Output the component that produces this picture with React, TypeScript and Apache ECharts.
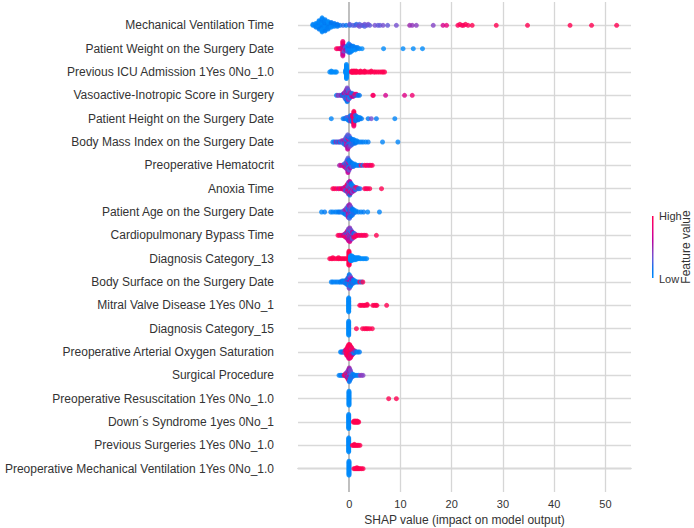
import React, { useEffect, useRef } from "react";
import * as echarts from "echarts";

// Feature names, top to bottom
const featureNames: string[] = [
  "Mechanical Ventilation Time",
  "Patient Weight on the Surgery Date",
  "Previous ICU Admission 1Yes 0No_1.0",
  "Vasoactive-Inotropic Score in Surgery",
  "Patient Height on the Surgery Date",
  "Body Mass Index on the Surgery Date",
  "Preoperative Hematocrit",
  "Anoxia Time",
  "Patient Age on the Surgery Date",
  "Cardiopulmonary Bypass Time",
  "Diagnosis Category_13",
  "Body Surface on the Surgery Date",
  "Mitral Valve Disease 1Yes 0No_1",
  "Diagnosis Category_15",
  "Preoperative Arterial Oxygen Saturation",
  "Surgical Procedure",
  "Preoperative Resuscitation 1Yes 0No_1.0",
  "Down´s Syndrome 1yes 0No_1",
  "Previous Surgeries 1Yes 0No_1.0",
  "Preoperative Mechanical Ventilation 1Yes 0No_1.0",
];

const xTickLabels: number[] = [0, 10, 20, 30, 40, 50];

// [SHAP value, normalized feature value]
const mechVent: [number, number][] = [
  [-7.1, 0.02], [-7.1, 0.06],
  [-6.5, 0.0], [-6.5, 0.05], [-6.5, 0.1], [-6.5, 0.03], [-6.5, 0.08],
  [-5.9, 0.02], [-5.9, 0.06], [-5.9, 0.0], [-5.9, 0.1], [-5.9, 0.04], [-5.9, 0.08], [-5.9, 0.01], [-5.9, 0.05], [-5.9, 0.12], [-5.9, 0.03],
  [-5.3, 0.0], [-5.3, 0.05], [-5.3, 0.1], [-5.3, 0.02], [-5.3, 0.08], [-5.3, 0.04], [-5.3, 0.12], [-5.3, 0.01],
  [-5.3, 0.06], [-5.3, 0.09], [-5.3, 0.03], [-5.3, 0.07], [-5.3, 0.0], [-5.3, 0.11], [-5.3, 0.05], [-5.3, 0.02],
  [-4.7, 0.03], [-4.7, 0.08], [-4.7, 0.0], [-4.7, 0.12], [-4.7, 0.05], [-4.7, 0.1], [-4.7, 0.02], [-4.7, 0.07],
  [-4.7, 0.04], [-4.7, 0.09], [-4.7, 0.01], [-4.7, 0.06], [-4.7, 0.11],
  [-4.1, 0.05], [-4.1, 0.1], [-4.1, 0.02], [-4.1, 0.08], [-4.1, 0.12], [-4.1, 0.04], [-4.1, 0.07], [-4.1, 0.0], [-4.1, 0.09],
  [-3.5, 0.08], [-3.5, 0.12], [-3.5, 0.05], [-3.5, 0.1], [-3.5, 0.03], [-3.5, 0.15],
  [-2.9, 0.1], [-2.9, 0.15], [-2.9, 0.06], [-2.9, 0.12],
  [-2.3, 0.12], [-2.3, 0.18], [-2.3, 0.1],
  [-1.8, 0.15], [-1.2, 0.2], [-0.6, 0.15], [0.1, 0.2], [0.1, 0.3], [0.7, 0.25], [1.1, 0.3], [1.4, 0.2],
  [1.7, 0.3], [2.0, 0.25], [2.0, 0.35], [2.4, 0.3], [2.7, 0.3], [3.0, 0.35], [3.0, 0.25], [3.4, 0.3],
  [3.7, 0.35], [4.0, 0.3], [5.0, 0.35], [5.6, 0.3], [6.0, 0.3], [6.6, 0.35], [7.5, 0.3], [9.2, 0.35],
  [11.8, 0.5], [12.3, 0.45], [13.1, 0.42], [16.4, 0.4], [18.3, 0.7], [19.0, 0.8],
  [21.2, 0.95], [21.6, 0.97], [22.0, 1], [22.3, 0.9], [22.7, 1], [23.2, 0.95], [24.0, 1],
  [28.7, 1], [34.8, 1], [43.1, 1], [47.3, 1], [52.2, 1],
];

const weight: [number, number][] = [
  [-2.5, 0.95], [-2.2, 0.9], [-1.9, 1], [-1.7, 0.7], [-1.5, 0.95], [-1.4, 0.5],
  [-1.25, 0.9], [-1.25, 0.55], [-1.25, 1], [-1.25, 0.7], [-1.25, 0.45], [-1.25, 0.95],
  [-1.25, 0.8], [-1.25, 0.4], [-1.25, 1], [-1.25, 0.6], [-1.25, 0.85], [-1.25, 0.7],
  [-1.0, 0.8], [-1.0, 0.5], [-1.0, 0.9], [-1.0, 0.6], [-1.0, 0.3],
  [-0.7, 0.4], [-0.7, 0.3], [-0.7, 0.6],
  [-0.4, 0.15], [-0.4, 0.1], [-0.4, 0.2], [-0.4, 0.05], [-0.4, 0.25],
  [-0.1, 0.05], [-0.1, 0.1], [-0.1, 0.0], [-0.1, 0.15], [-0.1, 0.05], [-0.1, 0.1], [-0.1, 0.2], [-0.1, 0.0],
  [0.2, 0.05], [0.2, 0.1], [0.2, 0.0], [0.2, 0.15], [0.2, 0.05], [0.2, 0.2], [0.2, 0.1],
  [0.5, 0.05], [0.5, 0.1], [0.5, 0.0], [0.5, 0.15], [0.5, 0.05],
  [0.8, 0.1], [0.8, 0.05], [0.8, 0.0], [0.8, 0.1],
  [1.2, 0.05], [1.2, 0.1], [1.2, 0.0],
  [1.6, 0.05], [1.6, 0.1], [2.0, 0.05], [2.5, 0.0],
  [6.7, 0.0], [10.5, 0.0], [12.5, 0.0], [14.3, 0.0],
];

const icuAdmission: [number, number][] = [
  [-3.8, 0], [-3.5, 0], [-3.5, 0], [-3.3, 0], [-3.0, 0], [-2.7, 0], [-2.5, 0],
  [-0.7, 0], [-0.7, 0], [-0.7, 0], [-0.7, 0],
  [-0.55, 0], [-0.55, 0], [-0.55, 0], [-0.55, 0], [-0.55, 0], [-0.55, 0], [-0.55, 0], [-0.55, 0],
  [-0.55, 0], [-0.55, 0], [-0.55, 0], [-0.55, 0], [-0.55, 0], [-0.55, 0], [-0.55, 0], [-0.55, 0],
  [-0.4, 0], [-0.4, 0], [-0.4, 0], [-0.4, 0],
  [0.4, 1], [0.5, 1], [0.5, 1], [0.6, 0.95], [0.8, 1], [0.8, 1], [0.9, 1], [1.1, 1], [1.1, 1], [1.3, 1],
  [1.4, 1], [1.4, 1], [1.6, 1], [1.9, 1], [2.1, 1], [2.2, 1], [2.2, 1], [2.5, 1], [2.8, 1], [3.0, 1],
  [3.0, 1], [3.2, 1], [3.6, 1], [4.0, 1], [4.3, 1], [4.3, 1], [4.8, 1], [5.1, 1], [5.5, 1], [5.9, 1],
  [6.3, 1], [6.6, 1], [6.9, 1],
];

const vasoactive: [number, number][] = [
  [-2.5, 0.1], [-2.2, 0.5], [-1.9, 0.3], [-1.6, 0.55], [-1.4, 0.1], [-1.2, 0.5], [-1.2, 0.15],
  [-1.0, 0.3], [-1.0, 0.5], [-1.0, 0.1], [-1.0, 0.6],
  [-0.8, 0.1], [-0.8, 0.45], [-0.8, 0.2], [-0.8, 0.55], [-0.8, 0.05], [-0.8, 0.4], [-0.8, 0.3],
  [-0.6, 0.1], [-0.6, 0.5], [-0.6, 0.05], [-0.6, 0.4], [-0.6, 0.6], [-0.6, 0.15], [-0.6, 0.35], [-0.6, 0.5], [-0.6, 0.1], [-0.6, 0.45],
  [-0.4, 0.05], [-0.4, 0.5], [-0.4, 0.1], [-0.4, 0.45], [-0.4, 0.2], [-0.4, 0.55], [-0.4, 0.05],
  [-0.4, 0.4], [-0.4, 0.3], [-0.4, 0.6], [-0.4, 0.1], [-0.4, 0.5], [-0.4, 0.15], [-0.4, 0.35],
  [-0.2, 0.1], [-0.2, 0.5], [-0.2, 0.2], [-0.2, 0.6], [-0.2, 0.05], [-0.2, 0.4], [-0.2, 0.7], [-0.2, 0.15], [-0.2, 0.45], [-0.2, 0.3],
  [0.0, 0.1], [0.0, 0.5], [0.0, 0.2], [0.0, 0.7], [0.0, 0.05], [0.0, 0.4], [0.0, 0.3],
  [0.2, 0.1], [0.2, 0.8], [0.2, 0.2], [0.2, 0.5], [0.2, 0.05],
  [0.5, 0.9], [0.5, 0.1], [0.5, 0.7], [0.5, 0.2],
  [0.8, 0.95], [0.8, 0.1], [0.8, 0.6],
  [1.1, 0.1], [1.1, 0.9], [1.4, 0.2], [1.4, 0.8], [1.7, 0.1], [2.0, 0.15],
  [4.6, 0.95], [4.7, 0.9], [7.1, 0.7], [10.8, 0.75], [12.3, 0.85],
];

const height: [number, number][] = [
  [-3.5, 0.05], [-1.2, 0.1], [-0.9, 0.15], [-0.6, 0.1], [-0.6, 0.2],
  [-0.3, 0.1], [-0.3, 0.3], [-0.3, 0.05],
  [0.0, 0.1], [0.0, 0.2], [0.0, 0.05], [0.0, 0.3], [0.0, 0.15],
  [0.3, 0.1], [0.3, 0.6], [0.3, 0.05], [0.3, 0.2], [0.3, 0.5], [0.3, 0.1],
  [0.6, 0.2], [0.6, 0.7], [0.6, 0.1], [0.6, 0.5], [0.6, 0.05], [0.6, 0.8], [0.6, 0.15],
  [0.9, 0.95], [0.9, 1], [0.9, 0.9], [0.9, 0.8], [0.9, 1], [0.9, 0.95], [0.9, 0.85], [0.9, 1],
  [0.9, 0.9], [0.9, 0.7], [0.9, 1], [0.9, 0.95], [0.9, 0.9], [0.9, 1], [0.9, 0.85],
  [1.2, 0.1], [1.2, 0.9], [1.2, 0.05], [1.2, 0.8], [1.2, 0.15], [1.2, 0.2],
  [1.5, 0.1], [1.5, 0.05], [1.5, 0.2], [1.5, 0.1],
  [1.8, 0.1], [1.8, 0.05], [1.8, 0.15], [2.1, 0.1], [2.1, 0.05], [2.4, 0.1],
  [3.7, 0.1], [4.3, 0.35], [5.3, 0.1], [8.9, 0.05],
];

const bmi: [number, number][] = [
  [-3.2, 0.1], [-2.9, 0.05], [-2.6, 0.5], [-2.3, 0.1], [-2.0, 0.55], [-1.8, 0.1], [-1.5, 0.1], [-1.5, 0.45],
  [-1.2, 0.1], [-1.2, 0.5], [-1.2, 0.3],
  [-0.9, 0.1], [-0.9, 0.6], [-0.9, 0.2], [-0.9, 0.45], [-0.9, 0.05],
  [-0.6, 0.1], [-0.6, 0.5], [-0.6, 0.7], [-0.6, 0.2], [-0.6, 0.4], [-0.6, 0.05], [-0.6, 0.55], [-0.6, 0.3],
  [-0.3, 0.5], [-0.3, 0.1], [-0.3, 0.6], [-0.3, 0.2], [-0.3, 0.45], [-0.3, 0.75], [-0.3, 0.05],
  [-0.3, 0.4], [-0.3, 0.55], [-0.3, 0.15], [-0.3, 0.5], [-0.3, 0.3], [-0.3, 0.65],
  [0.0, 0.1], [0.0, 0.5], [0.0, 0.2], [0.0, 0.7], [0.0, 0.05], [0.0, 0.4], [0.0, 0.6], [0.0, 0.15], [0.0, 0.45], [0.0, 0.3],
  [0.3, 0.1], [0.3, 0.4], [0.3, 0.05], [0.3, 0.5], [0.3, 0.2], [0.3, 0.1], [0.3, 0.3],
  [0.6, 0.1], [0.6, 0.05], [0.6, 0.4], [0.6, 0.15], [0.6, 0.2],
  [0.9, 0.1], [0.9, 0.05], [0.9, 0.2], [0.9, 0.1],
  [1.2, 0.05], [1.2, 0.1], [1.2, 0.15], [1.5, 0.1], [1.5, 0.05],
  [1.9, 0.1], [2.3, 0.05], [2.7, 0.1], [3.2, 0.05], [3.7, 0.1], [6.5, 0.05], [9.5, 0.05],
];

const hematocrit: [number, number][] = [
  [-1.9, 0.5], [-1.6, 0.7], [-1.3, 0.55],
  [-1.0, 0.6], [-1.0, 0.2], [-1.0, 0.8],
  [-0.7, 0.5], [-0.7, 0.1], [-0.7, 0.7], [-0.7, 0.3], [-0.7, 0.55],
  [-0.45, 0.1], [-0.45, 0.6], [-0.45, 0.2], [-0.45, 0.5], [-0.45, 0.8], [-0.45, 0.05], [-0.45, 0.45], [-0.45, 0.3],
  [-0.25, 0.5], [-0.25, 0.1], [-0.25, 0.6], [-0.25, 0.2], [-0.25, 0.45], [-0.25, 0.75], [-0.25, 0.05],
  [-0.25, 0.4], [-0.25, 0.55], [-0.25, 0.15], [-0.25, 0.5], [-0.25, 0.3], [-0.25, 0.65],
  [-0.05, 0.1], [-0.05, 0.5], [-0.05, 0.2], [-0.05, 0.6], [-0.05, 0.05], [-0.05, 0.4], [-0.05, 0.7], [-0.05, 0.15], [-0.05, 0.3],
  [0.2, 0.1], [0.2, 0.5], [0.2, 0.05], [0.2, 0.2], [0.2, 0.6], [0.2, 0.1],
  [0.5, 0.1], [0.5, 0.05], [0.5, 0.3], [0.5, 0.15],
  [0.8, 0.1], [0.8, 0.05], [0.8, 0.2],
  [1.1, 0.1], [1.1, 0.05], [1.4, 0.1], [1.7, 0.05], [2.0, 0.1], [2.3, 0.9], [2.6, 0.1],
  [3.0, 0.95], [3.3, 1], [3.6, 0.9], [3.9, 0.75], [4.2, 1], [4.5, 0.95],
];

const anoxia: [number, number][] = [
  [-3.2, 1], [-2.9, 0.95], [-2.5, 1], [-2.1, 0.7], [-1.8, 0.95], [-1.5, 1], [-1.3, 0.6],
  [-1.0, 0.9], [-1.0, 0.5], [-1.0, 0.8],
  [-0.7, 0.6], [-0.7, 0.95], [-0.7, 0.4], [-0.7, 0.75], [-0.7, 0.2],
  [-0.4, 0.5], [-0.4, 0.9], [-0.4, 0.1], [-0.4, 0.6], [-0.4, 0.8], [-0.4, 0.3], [-0.4, 0.55], [-0.4, 1],
  [-0.15, 0.5], [-0.15, 0.1], [-0.15, 0.9], [-0.15, 0.4], [-0.15, 0.6], [-0.15, 0.2],
  [-0.15, 0.85], [-0.15, 0.45], [-0.15, 0.05], [-0.15, 0.7], [-0.15, 0.5], [-0.15, 0.3],
  [0.1, 0.1], [0.1, 0.5], [0.1, 0.95], [0.1, 0.2], [0.1, 0.6], [0.1, 0.4], [0.1, 0.8],
  [0.1, 0.05], [0.1, 0.55], [0.1, 0.3], [0.1, 0.9], [0.1, 0.45], [0.1, 0.15], [0.1, 0.6],
  [0.35, 0.1], [0.35, 0.5], [0.35, 0.3], [0.35, 0.7], [0.35, 0.05], [0.35, 0.4], [0.35, 0.9], [0.35, 0.2], [0.35, 0.6], [0.35, 0.15],
  [0.6, 0.1], [0.6, 0.4], [0.6, 0.8], [0.6, 0.2], [0.6, 0.5], [0.6, 0.05], [0.6, 0.3],
  [0.9, 0.1], [0.9, 0.9], [0.9, 0.3], [0.9, 0.05], [0.9, 0.6],
  [1.2, 0.1], [1.2, 0.85], [1.2, 0.2],
  [1.5, 0.3], [1.5, 0.9], [1.8, 0.1], [2.1, 0.2], [3.0, 0.95], [3.3, 1], [3.6, 0.9], [4.0, 1], [6.3, 1],
];

const age: [number, number][] = [
  [-5.4, 0.05], [-4.8, 0.1], [-3.6, 0.1], [-3.2, 0.05], [-2.7, 0.1], [-2.3, 0.05], [-2.0, 0.15], [-1.7, 0.1], [-1.4, 0.2],
  [-1.1, 0.1], [-1.1, 0.3], [-1.1, 0.05],
  [-0.8, 0.2], [-0.8, 0.4], [-0.8, 0.1], [-0.8, 0.5], [-0.8, 0.15],
  [-0.5, 0.3], [-0.5, 0.5], [-0.5, 0.1], [-0.5, 0.6], [-0.5, 0.2], [-0.5, 0.45], [-0.5, 0.05], [-0.5, 0.35],
  [-0.2, 0.4], [-0.2, 0.1], [-0.2, 0.6], [-0.2, 0.3], [-0.2, 0.5], [-0.2, 0.05],
  [-0.2, 0.7], [-0.2, 0.2], [-0.2, 0.45], [-0.2, 0.15], [-0.2, 0.55], [-0.2, 0.35],
  [0.05, 0.5], [0.05, 0.2], [0.05, 0.6], [0.05, 0.1], [0.05, 0.45], [0.05, 0.7], [0.05, 0.3],
  [0.05, 0.05], [0.05, 0.55], [0.05, 0.4], [0.05, 0.15], [0.05, 0.6], [0.05, 0.25], [0.05, 0.5],
  [0.3, 0.2], [0.3, 0.5], [0.3, 0.1], [0.3, 0.4], [0.3, 0.6], [0.3, 0.05], [0.3, 0.3], [0.3, 0.45], [0.3, 0.15], [0.3, 0.35],
  [0.6, 0.1], [0.6, 0.4], [0.6, 0.2], [0.6, 0.05], [0.6, 0.3], [0.6, 0.15], [0.6, 0.1],
  [0.9, 0.1], [0.9, 0.05], [0.9, 0.2], [0.9, 0.1],
  [1.3, 0.1], [1.3, 0.05], [1.8, 0.1], [2.3, 0.05], [2.8, 0.1], [3.6, 0.05], [5.9, 0.05],
];

const bypass: [number, number][] = [
  [-2.2, 0.95], [-1.9, 1], [-1.6, 0.8], [-1.3, 0.95], [-1.1, 0.6],
  [-0.9, 0.9], [-0.9, 0.5], [-0.9, 1],
  [-0.65, 0.7], [-0.65, 0.3], [-0.65, 0.95], [-0.65, 0.5], [-0.65, 0.85],
  [-0.4, 0.6], [-0.4, 0.2], [-0.4, 0.9], [-0.4, 0.45], [-0.4, 0.7], [-0.4, 0.1], [-0.4, 0.55], [-0.4, 0.8],
  [-0.15, 0.5], [-0.15, 0.7], [-0.15, 0.3], [-0.15, 0.6], [-0.15, 0.9], [-0.15, 0.4],
  [-0.15, 0.55], [-0.15, 0.2], [-0.15, 0.75], [-0.15, 0.45], [-0.15, 0.65], [-0.15, 0.35],
  [0.1, 0.5], [0.1, 0.3], [0.1, 0.65], [0.1, 0.45], [0.1, 0.2], [0.1, 0.7], [0.1, 0.55],
  [0.1, 0.4], [0.1, 0.6], [0.1, 0.1], [0.1, 0.5], [0.1, 0.35], [0.1, 0.75], [0.1, 0.45],
  [0.35, 0.4], [0.35, 0.6], [0.35, 0.2], [0.35, 0.5], [0.35, 0.7], [0.35, 0.3], [0.35, 0.45], [0.35, 0.1], [0.35, 0.55], [0.35, 0.35],
  [0.6, 0.5], [0.6, 0.2], [0.6, 0.7], [0.6, 0.4], [0.6, 0.1], [0.6, 0.6], [0.6, 0.3],
  [0.9, 0.8], [0.9, 0.3], [0.9, 0.6], [0.9, 0.1], [0.9, 0.9],
  [1.2, 0.9], [1.2, 0.4], [1.2, 0.95],
  [1.5, 0.9], [1.8, 1], [2.1, 0.85], [2.4, 0.95], [2.7, 1], [3.0, 0.9], [3.3, 0.95], [5.3, 1],
];

const diag13: [number, number][] = [
  [-3.8, 1], [-3.5, 1], [-3.2, 1], [-3.2, 1], [-2.8, 1], [-2.4, 1], [-2.1, 1], [-2.1, 1],
  [-1.8, 1], [-1.5, 1], [-1.2, 1], [-0.9, 1], [-0.6, 1],
  [-0.05, 1], [-0.05, 1], [-0.05, 1], [-0.05, 1], [-0.05, 1], [-0.05, 1], [-0.05, 1], [-0.05, 1],
  [-0.05, 1], [-0.05, 1], [-0.05, 1], [-0.05, 1], [-0.05, 1], [-0.05, 1], [-0.05, 1], [-0.05, 1],
  [0.25, 0], [0.25, 0], [0.25, 0], [0.25, 0], [0.25, 0], [0.25, 0],
  [0.5, 0], [0.5, 0], [0.5, 0], [0.5, 0], [0.5, 0], [0.5, 0],
  [0.75, 0], [0.75, 0], [0.75, 0], [0.75, 0],
  [1.0, 0], [1.0, 0], [1.0, 0], [1.3, 0], [1.3, 0], [1.3, 0], [1.6, 0], [1.6, 0], [1.9, 0], [1.9, 0],
  [2.2, 0], [2.5, 0], [2.8, 0], [3.1, 0], [3.4, 0],
];

const bodySurface: [number, number][] = [
  [-3.5, 0.05], [-3.2, 0.1], [-2.8, 0.05], [-2.4, 0.1], [-2.0, 0.05], [-1.7, 0.1], [-1.4, 0.05], [-1.4, 0.15], [-1.1, 0.1], [-1.1, 0.05],
  [-0.8, 0.1], [-0.8, 0.05], [-0.8, 0.2],
  [-0.5, 0.1], [-0.5, 0.3], [-0.5, 0.05], [-0.5, 0.15], [-0.5, 0.1],
  [-0.25, 0.1], [-0.25, 0.4], [-0.25, 0.05], [-0.25, 0.2], [-0.25, 0.1], [-0.25, 0.5], [-0.25, 0.05], [-0.25, 0.15],
  [0.0, 0.05], [0.0, 0.5], [0.0, 0.1], [0.0, 0.6], [0.0, 0.2], [0.0, 0.05], [0.0, 0.45],
  [0.0, 0.1], [0.0, 0.3], [0.0, 0.55], [0.0, 0.05], [0.0, 0.2], [0.0, 0.4], [0.0, 0.1],
  [0.25, 0.1], [0.25, 0.5], [0.25, 0.05], [0.25, 0.7], [0.25, 0.2], [0.25, 0.4], [0.25, 0.1], [0.25, 0.6], [0.25, 0.05], [0.25, 0.3],
  [0.5, 0.1], [0.5, 0.05], [0.5, 0.5], [0.5, 0.2], [0.5, 0.1], [0.5, 0.6],
  [0.8, 0.05], [0.8, 0.1], [0.8, 0.2], [0.8, 0.1],
  [1.1, 0.1], [1.1, 0.05], [1.4, 0.1], [1.7, 0.05], [2.05, 0.95], [2.4, 0.1], [2.65, 1],
];

const mitral: [number, number][] = [
  [-0.1, 0], [-0.1, 0.02], [-0.1, 0], [-0.1, 0.02], [-0.1, 0], [-0.1, 0.02], [-0.1, 0], [-0.1, 0.02],
  [-0.1, 0], [-0.1, 0.02], [-0.1, 0], [-0.1, 0.02], [-0.1, 0], [-0.1, 0.02], [-0.1, 0], [-0.1, 0.02],
  [2.05, 1], [2.3, 1], [2.6, 1], [2.9, 1], [3.1, 1], [3.5, 1], [3.5, 1],
  [4.6, 1], [4.9, 1], [5.2, 1], [5.4, 1], [7.3, 1],
];

const diag15: [number, number][] = [
  [-0.1, 0], [-0.1, 0.02], [-0.1, 0], [-0.1, 0.02], [-0.1, 0], [-0.1, 0.02], [-0.1, 0], [-0.1, 0.02],
  [-0.1, 0], [-0.1, 0.02], [-0.1, 0], [-0.1, 0.02], [-0.1, 0], [-0.1, 0.02], [-0.1, 0], [-0.1, 0.02],
  [1.4, 1], [2.6, 1], [3.0, 1], [3.3, 1], [3.6, 1], [4.0, 1], [4.5, 1],
];

const o2Sat: [number, number][] = [
  [-1.7, 0.05], [-1.5, 0.05], [-1.3, 0.1], [-1.1, 0.2], [-0.9, 0.9], [-0.9, 0.05],
  [-0.7, 0.9], [-0.7, 1], [-0.7, 0.3], [-0.7, 0.95],
  [-0.5, 1], [-0.5, 0.9], [-0.5, 0.95], [-0.5, 0.6], [-0.5, 1], [-0.5, 0.85], [-0.5, 0.95],
  [-0.3, 1], [-0.3, 0.95], [-0.3, 0.9], [-0.3, 1], [-0.3, 0.8], [-0.3, 0.95], [-0.3, 1], [-0.3, 0.9], [-0.3, 0.7], [-0.3, 1],
  [-0.1, 1], [-0.1, 0.95], [-0.1, 1], [-0.1, 0.9], [-0.1, 1], [-0.1, 0.85], [-0.1, 1],
  [-0.1, 0.95], [-0.1, 1], [-0.1, 0.9], [-0.1, 1], [-0.1, 0.95], [-0.1, 0.8], [-0.1, 1],
  [0.1, 1], [0.1, 0.9], [0.1, 1], [0.1, 0.95], [0.1, 1], [0.1, 0.85], [0.1, 1],
  [0.1, 0.95], [0.1, 1], [0.1, 0.9], [0.1, 1], [0.1, 0.95], [0.1, 0.75], [0.1, 1],
  [0.3, 1], [0.3, 0.95], [0.3, 0.9], [0.3, 1], [0.3, 0.7], [0.3, 0.95], [0.3, 1], [0.3, 0.9], [0.3, 0.5], [0.3, 1], [0.3, 0.95],
  [0.5, 1], [0.5, 0.95], [0.5, 0.5], [0.5, 1], [0.5, 0.9], [0.5, 0.4], [0.5, 1], [0.5, 0.95],
  [0.7, 0.5], [0.7, 1], [0.7, 0.1], [0.7, 0.9], [0.7, 0.6],
  [0.9, 0.1], [0.9, 0.95], [0.9, 0.05],
  [1.1, 0.1], [1.1, 0.5], [1.4, 0.1], [1.7, 0.05], [2.0, 0.1],
];

const surgicalProcedure: [number, number][] = [
  [-2.0, 0.05], [-1.7, 0.1], [-1.5, 0.05], [-1.2, 0.1], [-1.0, 0.9], [-0.8, 1], [-0.8, 0.95],
  [-0.6, 1], [-0.6, 0.3], [-0.6, 0.9], [-0.6, 0.5],
  [-0.4, 0.5], [-0.4, 0.9], [-0.4, 0.2], [-0.4, 1], [-0.4, 0.6], [-0.4, 0.4],
  [-0.2, 0.5], [-0.2, 0.6], [-0.2, 0.3], [-0.2, 0.9], [-0.2, 0.45], [-0.2, 0.7], [-0.2, 0.2], [-0.2, 0.55], [-0.2, 1], [-0.2, 0.4],
  [0.0, 0.5], [0.0, 0.4], [0.0, 0.6], [0.0, 0.3], [0.0, 0.55], [0.0, 0.7], [0.0, 0.45],
  [0.0, 0.2], [0.0, 0.65], [0.0, 0.5], [0.0, 0.35], [0.0, 0.6], [0.0, 0.1], [0.0, 0.5],
  [0.2, 0.45], [0.2, 0.3], [0.2, 0.6], [0.2, 0.1], [0.2, 0.5], [0.2, 0.4], [0.2, 0.2], [0.2, 0.55], [0.2, 0.05], [0.2, 0.35],
  [0.4, 0.1], [0.4, 0.4], [0.4, 0.05], [0.4, 0.3], [0.4, 0.2],
  [0.7, 0.1], [0.7, 0.05], [0.7, 0.2],
  [1.0, 0.1], [1.2, 0.05], [1.5, 0.1], [1.8, 0.05], [2.1, 0.4], [2.4, 0.45], [2.7, 0.4],
];

const resuscitation: [number, number][] = [
  [-0.05, 0], [-0.05, 0.02], [-0.05, 0], [-0.05, 0.02], [-0.05, 0], [-0.05, 0.02], [-0.05, 0], [-0.05, 0.02],
  [-0.05, 0], [-0.05, 0.02], [-0.05, 0], [-0.05, 0.02], [-0.05, 0], [-0.05, 0.02], [-0.05, 0], [-0.05, 0.02],
  [7.7, 1], [9.2, 1],
];

const downSyndrome: [number, number][] = [
  [-0.1, 0], [-0.1, 0.02], [-0.1, 0], [-0.1, 0.02], [-0.1, 0], [-0.1, 0.02], [-0.1, 0], [-0.1, 0.02],
  [-0.1, 0], [-0.1, 0.02], [-0.1, 0], [-0.1, 0.02], [-0.1, 0], [-0.1, 0.02], [-0.1, 0], [-0.1, 0.02],
  [0.8, 1], [0.95, 1], [0.95, 1], [1.1, 1], [1.25, 1], [1.25, 1], [1.4, 1], [1.55, 1], [1.55, 1], [1.7, 1], [1.85, 1],
];

const previousSurgeries: [number, number][] = [
  [-0.1, 0], [-0.1, 0.02], [-0.1, 0], [-0.1, 0.02], [-0.1, 0], [-0.1, 0.02], [-0.1, 0], [-0.1, 0.02],
  [-0.1, 0], [-0.1, 0.02], [-0.1, 0], [-0.1, 0.02], [-0.1, 0], [-0.1, 0.02], [-0.1, 0], [-0.1, 0.02],
  [0.6, 1], [0.8, 1], [1.0, 1], [1.0, 1], [1.2, 1], [1.4, 1], [1.6, 1], [1.8, 1], [2.1, 1],
];

const preopMechVent: [number, number][] = [
  [-0.05, 0], [-0.05, 0.02], [-0.05, 0], [-0.05, 0.02], [-0.05, 0], [-0.05, 0.02], [-0.05, 0], [-0.05, 0.02],
  [-0.05, 0], [-0.05, 0.02], [-0.05, 0], [-0.05, 0.02], [-0.05, 0], [-0.05, 0.02], [-0.05, 0], [-0.05, 0.02],
  [0.9, 1], [1.1, 1], [1.3, 1], [1.5, 1], [1.5, 1], [1.7, 1], [1.9, 1], [2.1, 1], [2.4, 1], [2.7, 1],
];

const rowsData: [number, number][][] = [
  mechVent, weight, icuAdmission, vasoactive, height, bmi, hematocrit, anoxia, age, bypass,
  diag13, bodySurface, mitral, diag15, o2Sat, surgicalProcedure, resuscitation, downSyndrome,
  previousSurgeries, preopMechVent,
];

// SHAP red-blue colormap (LCH interpolation)
function shapColor(t: number): string {
  const k = Math.max(0, Math.min(1, t)) * 99;
  let l: number;
  if (k <= 49) l = 54 - (14 * k) / 49;
  else if (k >= 50) l = 40 + (14 * (k - 50)) / 49;
  else l = 40;
  const c = 70 + (20 * k) / 99;
  const h = 4.6588 + ((0.35470565 + 2 * Math.PI - 4.6588) * k) / 99;
  const a = c * Math.cos(h);
  const b = c * Math.sin(h);
  const fy = (l + 16) / 116;
  const fx = fy + a / 500;
  const fz = fy - b / 200;
  const finv = (v: number) => (v > 0.2068966 ? v * v * v : (v - 16 / 116) / 7.787);
  const X = 0.95047 * finv(fx);
  const Y = finv(fy);
  const Z = 1.08883 * finv(fz);
  const rl = 3.2406 * X - 1.5372 * Y - 0.4986 * Z;
  const gl = -0.9689 * X + 1.8758 * Y + 0.0415 * Z;
  const bl = 0.0557 * X - 0.204 * Y + 1.057 * Z;
  const gam = (u: number) => {
    const v = u > 0.0031308 ? 1.055 * Math.pow(u, 1 / 2.4) - 0.055 : 12.92 * u;
    return Math.max(0, Math.min(255, Math.round(v * 255)));
  };
  return `rgb(${gam(rl)},${gam(gl)},${gam(bl)})`;
}

// SHAP beeswarm vertical layout
function swarm(xs: number[], rowHeight = 0.4): number[] {
  const n = xs.length;
  const mn = Math.min(...xs);
  const mx = Math.max(...xs);
  const nbins = 100;
  const quant = xs.map((x) => Math.round((nbins * (x - mn)) / (mx - mn + 1e-8)));
  const inds = xs.map((_, i) => i).sort((p, q) => quant[p] - quant[q] || p - q);
  const ys = new Array(n).fill(0);
  let layer = 0;
  let last = -1;
  for (const i of inds) {
    if (quant[i] !== last) layer = 0;
    ys[i] = Math.ceil(layer / 2) * ((layer % 2) * 2 - 1);
    layer += 1;
    last = quant[i];
  }
  const m = Math.max(...ys.map((y) => y + 1));
  return ys.map((y) => y * 0.9 * (rowHeight / m));
}

const FONT = "'Liberation Sans', Arial, Helvetica, sans-serif";

export default function App() {
  const ref = useRef<HTMLDivElement>(null);

  useEffect(() => {
    if (!ref.current) return;
    const chart = echarts.init(ref.current, undefined, { renderer: "svg" });
    const nRows = rowsData.length;

    const points: any[] = [];
    rowsData.forEach((row, r) => {
      const pos = nRows - 1 - r;
      const ys = swarm(row.map((p) => p[0]));
      row.forEach((p, i) => {
        points.push({ value: [p[0], pos + ys[i]], itemStyle: { color: shapColor(p[1]) } });
      });
    });

    const lineData: any[] = [];
    for (let i = 0; i < nRows; i++) {
      lineData.push({ yAxis: i, lineStyle: { color: "#d9d9d9", width: 1.3, type: "solid" } });
    }
    xTickLabels.forEach((v) => {
      if (v !== 0) lineData.push({ xAxis: v, lineStyle: { color: "#d6d6d6", width: 1.3, type: "solid" } });
    });
    lineData.push({ xAxis: 0, lineStyle: { color: "#b0b0b0", width: 1.6, type: "solid" } });

    const stops = [];
    for (let i = 0; i <= 10; i++) {
      stops.push({ offset: i / 10, color: shapColor(1 - i / 10) });
    }

    chart.setOption({
      animation: false,
      textStyle: { fontFamily: FONT },
      grid: { left: 298, top: 2, width: 333, height: 490, containLabel: false, outerBoundsMode: "none" },
      xAxis: {
        type: "value",
        min: -10,
        max: 55,
        interval: 10,
        axisLine: { show: true, lineStyle: { color: "#c8c8c8", width: 1.3 } },
        axisTick: { show: false },
        splitLine: { show: false },
        axisLabel: {
          color: "#333333",
          fontSize: 11,
          margin: 6,
          fontFamily: FONT,
          formatter: (v: number) => (xTickLabels.indexOf(v) >= 0 ? String(v) : ""),
        },
        name: "SHAP value (impact on model output)",
        nameLocation: "middle",
        nameGap: 19,
        nameTextStyle: { color: "#333333", fontSize: 12, fontFamily: FONT },
      },
      yAxis: {
        type: "value",
        min: -1,
        max: nRows,
        interval: 1,
        axisLine: { show: false },
        axisTick: { show: false },
        splitLine: { show: false },
        axisLabel: {
          color: "#333333",
          fontSize: 12,
          margin: 24,
          fontFamily: FONT,
          formatter: (v: number) => {
            const idx = nRows - 1 - Math.round(v);
            return idx >= 0 && idx < nRows ? featureNames[idx] : "";
          },
        },
      },
      series: [
        {
          type: "scatter",
          data: [],
          silent: true,
          z: 1,
          markLine: {
            silent: true,
            z: 1,
            symbol: ["none", "none"],
            label: { show: false },
            animation: false,
            emphasis: { disabled: true },
            data: lineData,
          },
        },
        {
          type: "scatter",
          z: 3,
          symbol: "circle",
          symbolSize: 5,
          silent: true,
          data: points,
        },
      ],
      graphic: [
        {
          type: "rect",
          shape: { x: 652, y: 216, width: 1.5, height: 62 },
          style: { fill: new echarts.graphic.LinearGradient(0, 0, 0, 1, stops) },
        },
        {
          type: "text",
          x: 659,
          y: 216,
          style: { text: "High", fontSize: 11, fill: "#333333", align: "left", verticalAlign: "middle", fontFamily: FONT },
        },
        {
          type: "text",
          x: 659,
          y: 279,
          style: { text: "Low", fontSize: 11, fill: "#333333", align: "left", verticalAlign: "middle", fontFamily: FONT },
        },
        {
          type: "text",
          x: 686,
          y: 247,
          rotation: Math.PI / 2,
          style: { text: "Feature value", fontSize: 12, fill: "#333333", align: "center", verticalAlign: "middle", fontFamily: FONT },
        },
      ],
    });

    return () => chart.dispose();
  }, []);

  return (
    <div
      ref={ref}
      style={{ position: "fixed", left: 0, top: 0, width: 694, height: 528, background: "#ffffff" }}
    />
  );
}
